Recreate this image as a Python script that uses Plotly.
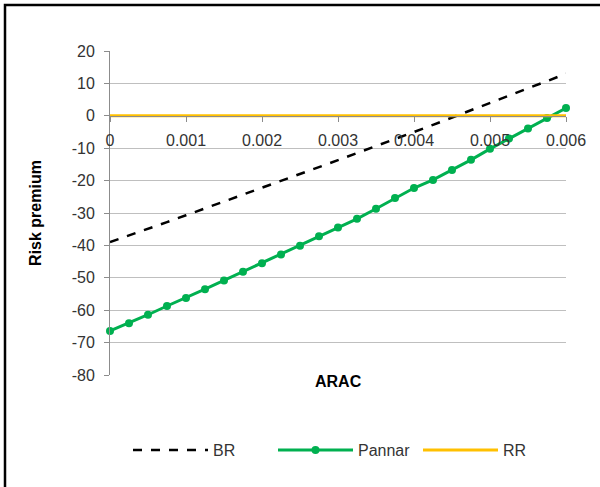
import plotly.graph_objects as go

# ARAC values (step 0.00025)
arac = [i * 0.00025 for i in range(25)]

br = [-39.0, -37.0, -34.9, -32.8, -30.7, -28.6, -26.5, -24.4, -22.3, -20.2,
      -18.0, -15.9, -13.7, -11.5, -9.4, -7.2, -5.0, -2.8, -0.5, 1.7,
      4.0, 6.2, 8.5, 10.7, 13.0]
pannar = [-66.4, -64.0, -61.4, -58.7, -56.2, -53.5, -50.8, -48.1, -45.5, -42.8,
          -40.1, -37.2, -34.5, -31.8, -28.7, -25.4, -22.3, -19.8, -16.7, -13.6,
          -10.2, -7.0, -3.9, -0.7, 2.4]
rr = [0.0] * 25

x_ticks = [0, 0.001, 0.002, 0.003, 0.004, 0.005, 0.006]
x_tick_text = ["0", "0.001", "0.002", "0.003", "0.004", "0.005", "0.006"]
y_ticks = [20, 10, 0, -10, -20, -30, -40, -50, -60, -70, -80]
y_tick_text = ["20", "10", "0", "-10", "-20", "-30", "-40", "-50", "-60", "-70", "-80"]

FONT = "Liberation Sans, Arial, sans-serif"
GRID = "#BFBFBF"
AXIS = "#8C8C8C"

fig = go.Figure()
fig.add_trace(go.Scatter(x=arac, y=br, name="BR", mode="lines",
                         line=dict(color="#000000", width=2.5, dash="dash"),
                         cliponaxis=False))
fig.add_trace(go.Scatter(x=arac, y=pannar, name="Pannar", mode="lines+markers",
                         line=dict(color="#00B050", width=3),
                         marker=dict(color="#00B050", size=8),
                         cliponaxis=False))
fig.add_trace(go.Scatter(x=arac, y=rr, name="RR", mode="lines",
                         line=dict(color="#FFC000", width=3),
                         cliponaxis=False))

W, H = 600, 487
L, R, T, B = 110, 34, 51, 112
pw, ph = W - L - R, H - T - B

def px_x(p):
    return (p - L) / pw

def px_y(p):
    return (H - B - p) / ph

# Outer frame around the chart
fig.add_shape(type="rect", xref="paper", yref="paper",
              x0=px_x(5), x1=px_x(606), y0=px_y(493), y1=px_y(5),
              line=dict(color="#000000", width=2.5), layer="below")

fig.update_layout(
    width=W, height=H,
    margin=dict(l=L, r=R, t=T, b=B, autoexpand=False),
    paper_bgcolor="white", plot_bgcolor="white",
    font=dict(family=FONT, size=16, color="#333333"),
    showlegend=True,
    legend=dict(orientation="h", x=px_x(128), xanchor="left",
                y=px_y(450), yanchor="middle",
                font=dict(family=FONT, size=16, color="#333333"),
                itemwidth=75, entrywidth=55, entrywidthmode="pixels",
                traceorder="normal"),
    xaxis=dict(range=[0, 0.006], tickvals=x_ticks, ticktext=x_tick_text,
               showgrid=False, zeroline=False,
               showline=True, linecolor=AXIS, linewidth=1,
               ticks="outside", ticklen=5, tickcolor=AXIS,
               ticklabelstandoff=5,
               anchor="free", position=0.8,
               tickfont=dict(family=FONT, size=16, color="#333333")),
    yaxis=dict(range=[-80, 20], tickvals=y_ticks, ticktext=y_tick_text,
               showgrid=True, gridcolor=GRID, gridwidth=1,
               zeroline=False, showline=True, linecolor=AXIS, linewidth=1,
               ticks="outside", ticklen=5, tickcolor=AXIS,
               ticklabelstandoff=6,
               tickfont=dict(family=FONT, size=16, color="#333333"),
               title=dict(text="<b>Risk premium</b>", standoff=26,
                          font=dict(family=FONT, size=16, color="#000000"))),
)

# X axis title sits below the plot area
fig.add_annotation(text="<b>ARAC</b>", xref="paper", yref="paper",
                   x=0.5, y=px_y(392), showarrow=False,
                   font=dict(family=FONT, size=16, color="#000000"))

fig.write_html("out.html")
